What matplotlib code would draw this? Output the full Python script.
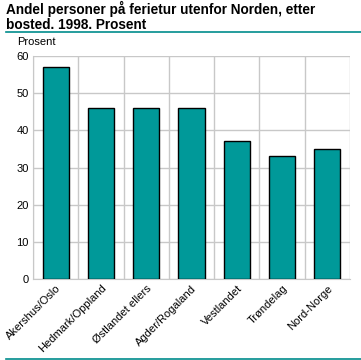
import matplotlib
matplotlib.use("Agg")
import matplotlib.pyplot as plt
from matplotlib.lines import Line2D

categories = ["Akershus/Oslo", "Hedmark/Oppland", "Østlandet ellers", "Agder/Rogaland",
              "Vestlandet", "Trøndelag", "Nord-Norge"]
values = [57, 46, 46, 46, 37, 33, 35]
yticks = [0, 10, 20, 30, 40, 50, 60]

plt.rcParams['font.family'] = ['Liberation Sans', 'DejaVu Sans']

fig = plt.figure(figsize=(3.61, 3.60), dpi=100)
W, H = 361, 360
ax = fig.add_axes([33 / W, 1 - 279 / H, (350 - 33) / W, (279 - 56) / H])

x = list(range(len(categories)))
ax.bar(x, values, width=0.58, color="#009999", edgecolor="black", linewidth=1, zorder=3)
ax.set_xlim(-0.5, len(categories) - 0.5)
ax.set_ylim(0, 60)
ax.set_yticks(yticks)
ax.set_yticklabels([str(v) for v in yticks], fontsize=8)
ax.set_xticks(x)
ax.set_xticklabels(categories, rotation=45, ha="right", rotation_mode="anchor", fontsize=8)
ax.tick_params(axis="both", length=0, pad=3)
ax.set_xticks([i + 0.5 for i in range(-1, len(categories))], minor=True)
ax.tick_params(axis="x", which="minor", length=0)
ax.grid(axis="y", color="#c8c8c8", linewidth=1, zorder=0)
ax.grid(axis="x", which="minor", color="#c8c8c8", linewidth=1, zorder=0)
ax.grid(axis="x", which="major", visible=False)
for s in ["top", "right"]:
    ax.spines[s].set_visible(False)
ax.spines["left"].set_color("#c8c8c8")
ax.spines["bottom"].set_color("#c8c8c8")

fig.text(6 / W, 1 - 1 / H, "Andel personer på ferietur utenfor Norden, etter\nbosted. 1998. Prosent",
         fontsize=9.8, fontweight="bold", va="top", ha="left", linespacing=1.05)
fig.add_artist(Line2D([6 / W, 1], [1 - 32 / H, 1 - 32 / H], color="#008c8c", linewidth=1.2))
fig.add_artist(Line2D([6 / W, 1], [1 - 358.5 / H, 1 - 358.5 / H], color="#008c8c", linewidth=1.2))
fig.text(17 / W, 1 - 37 / H, "Prosent", fontsize=8, va="top", ha="left")

fig.savefig("out.png", dpi=100)
